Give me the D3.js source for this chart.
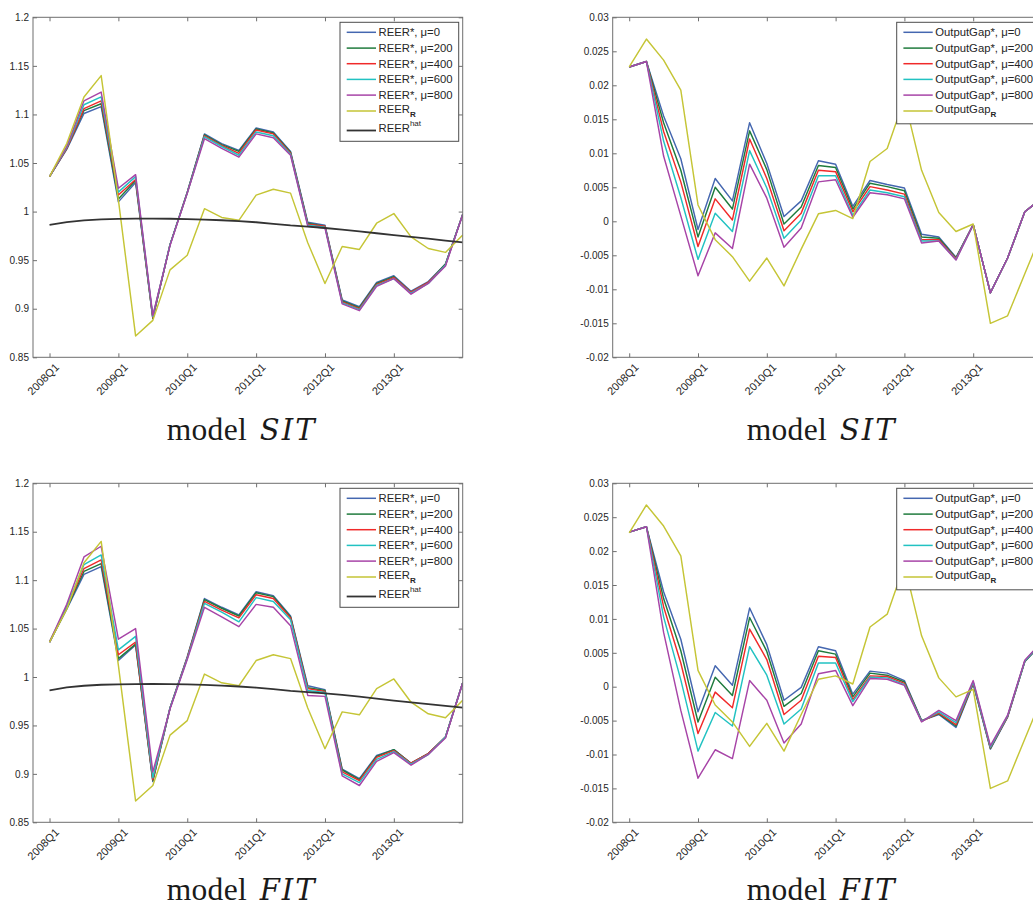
<!DOCTYPE html>
<html>
<head>
<meta charset="utf-8">
<script src="https://cdn.jsdelivr.net/npm/d3@7"></script>
<style>
html, body { margin: 0; padding: 0; background: #fff; overflow: hidden; }
svg { display: block; }
</style>
</head>
<body>
<svg id="fig" width="1033" height="908"></svg>
<script>
// ---- data -------------------------------------------------------------
const quarters = ["2008Q1","2008Q2","2008Q3","2008Q4","2009Q1","2009Q2","2009Q3","2009Q4",
  "2010Q1","2010Q2","2010Q3","2010Q4","2011Q1","2011Q2","2011Q3","2011Q4",
  "2012Q1","2012Q2","2012Q3","2012Q4","2013Q1","2013Q2","2013Q3","2013Q4","2014Q1"];
const xTickIndex = [0, 4, 8, 12, 16, 20];
const xTickLabels = ["2008Q1","2009Q1","2010Q1","2011Q1","2012Q1","2013Q1"];

const mus = [0, 200, 400, 600, 800];

const reerTicks = [0.85, 0.9, 0.95, 1, 1.05, 1.1, 1.15, 1.2];
const reerTickLabels = ["0.85","0.9","0.95","1","1.05","1.1","1.15","1.2"];
const gapTicks = [-0.02, -0.015, -0.01, -0.005, 0, 0.005, 0.01, 0.015, 0.02, 0.025, 0.03];
const gapTickLabels = ["-0.02","-0.015","-0.01","-0.005","0","0.005","0.01","0.015","0.02","0.025","0.03"];

// realised REER and its trend
const reerR = [1.036, 1.070, 1.118, 1.140, 1.012, 0.872, 0.888, 0.940, 0.955, 1.003, 0.994, 0.991,
  1.017, 1.023, 1.019, 0.968, 0.926, 0.964, 0.961, 0.988, 0.998, 0.974, 0.962, 0.958, 0.976];
const reerHat = [0.9863, 0.9892, 0.9910, 0.9920, 0.9925, 0.9927, 0.9928, 0.9926, 0.9923, 0.9918, 0.9911, 0.9902,
  0.9890, 0.9874, 0.9857, 0.9845, 0.9831, 0.9815, 0.9797, 0.9777, 0.9757, 0.9739, 0.9721, 0.9702, 0.9684];
// realised output gap
const gapR = [0.0227, 0.0268, 0.0237, 0.0193, 0.0024, -0.0027, -0.0052, -0.0088, -0.0054, -0.0095, -0.0041, 0.0011,
  0.0016, 0.0004, 0.0088, 0.0107, 0.0180, 0.0075, 0.0013, -0.0015, -0.0004, -0.0150, -0.0139, -0.0077, -0.0016];

// model SIT: optimal REER for each mu
const sitReer0   = [1.036, 1.064, 1.101, 1.108, 1.010, 1.030, 0.890, 0.966, 1.020, 1.080, 1.070, 1.063, 1.086, 1.082, 1.062, 0.989, 0.986, 0.909, 0.902, 0.927, 0.934, 0.918, 0.928, 0.946, 0.997];
const sitReer200 = [1.036, 1.065, 1.104, 1.111, 1.013, 1.032, 0.890, 0.966, 1.020, 1.079, 1.069, 1.062, 1.085, 1.081, 1.061, 0.988, 0.985, 0.908, 0.901, 0.926, 0.933, 0.917, 0.927, 0.946, 0.997];
const sitReer400 = [1.036, 1.065, 1.106, 1.114, 1.017, 1.033, 0.891, 0.966, 1.019, 1.078, 1.068, 1.060, 1.084, 1.080, 1.060, 0.987, 0.985, 0.907, 0.900, 0.925, 0.932, 0.917, 0.927, 0.945, 0.997];
const sitReer600 = [1.036, 1.066, 1.110, 1.118, 1.020, 1.036, 0.892, 0.966, 1.019, 1.077, 1.067, 1.058, 1.082, 1.078, 1.059, 0.986, 0.984, 0.906, 0.899, 0.924, 0.931, 0.916, 0.926, 0.945, 0.997];
const sitReer800 = [1.036, 1.067, 1.114, 1.123, 1.024, 1.038, 0.893, 0.965, 1.019, 1.075, 1.065, 1.056, 1.080, 1.076, 1.058, 0.985, 0.983, 0.905, 0.898, 0.923, 0.931, 0.915, 0.926, 0.944, 0.997];

// model SIT: optimal output gap for each mu
const sitGap0   = [0.0227, 0.0235, 0.0155, 0.0092, -0.0012, 0.0063, 0.0030, 0.0145, 0.0085, 0.0007, 0.0030, 0.0089, 0.0084, 0.0022, 0.0060, 0.0054, 0.0049, -0.0019, -0.0023, -0.0053, -0.0005, -0.0105, -0.0054, 0.0014, 0.0034];
const sitGap200 = [0.0227, 0.0235, 0.0145, 0.0075, -0.0023, 0.0050, 0.0018, 0.0133, 0.0076, -0.0004, 0.0021, 0.0082, 0.0079, 0.0018, 0.0056, 0.0051, 0.0045, -0.0023, -0.0025, -0.0054, -0.0005, -0.0105, -0.0054, 0.0014, 0.0034];
const sitGap400 = [0.0227, 0.0235, 0.0132, 0.0058, -0.0037, 0.0033, 0.0002, 0.0121, 0.0063, -0.0014, 0.0012, 0.0075, 0.0073, 0.0014, 0.0051, 0.0046, 0.0040, -0.0027, -0.0027, -0.0055, -0.0005, -0.0105, -0.0054, 0.0014, 0.0034];
const sitGap600 = [0.0227, 0.0235, 0.0118, 0.0035, -0.0056, 0.0012, -0.0015, 0.0104, 0.0049, -0.0025, 0.0002, 0.0067, 0.0067, 0.0009, 0.0046, 0.0042, 0.0036, -0.0029, -0.0029, -0.0056, -0.0005, -0.0105, -0.0054, 0.0014, 0.0034];
const sitGap800 = [0.0227, 0.0235, 0.0096, 0.0008, -0.0080, -0.0017, -0.0040, 0.0084, 0.0034, -0.0038, -0.0010, 0.0058, 0.0061, 0.0006, 0.0042, 0.0039, 0.0033, -0.0032, -0.0029, -0.0057, -0.0005, -0.0105, -0.0054, 0.0014, 0.0034];

// model FIT: optimal REER for each mu
const fitReer0   = [1.036, 1.070, 1.106, 1.114, 1.017, 1.033, 0.892, 0.968, 1.021, 1.081, 1.072, 1.064, 1.088, 1.084, 1.063, 0.991, 0.987, 0.905, 0.895, 0.919, 0.925, 0.911, 0.921, 0.938, 0.994];
const fitReer200 = [1.036, 1.071, 1.109, 1.117, 1.019, 1.034, 0.893, 0.968, 1.020, 1.080, 1.071, 1.063, 1.087, 1.083, 1.062, 0.989, 0.986, 0.904, 0.894, 0.918, 0.925, 0.911, 0.921, 0.938, 0.994];
const fitReer400 = [1.036, 1.072, 1.112, 1.121, 1.023, 1.036, 0.894, 0.968, 1.020, 1.078, 1.069, 1.061, 1.085, 1.081, 1.061, 0.988, 0.985, 0.902, 0.893, 0.917, 0.924, 0.911, 0.921, 0.938, 0.994];
const fitReer600 = [1.036, 1.073, 1.116, 1.126, 1.028, 1.042, 0.896, 0.968, 1.019, 1.076, 1.067, 1.057, 1.082, 1.078, 1.059, 0.986, 0.984, 0.900, 0.891, 0.915, 0.923, 0.910, 0.920, 0.938, 0.994];
const fitReer800 = [1.036, 1.075, 1.124, 1.135, 1.039, 1.050, 0.902, 0.967, 1.018, 1.072, 1.062, 1.052, 1.075, 1.072, 1.053, 0.981, 0.980, 0.898, 0.888, 0.913, 0.922, 0.909, 0.920, 0.937, 0.994];

// model FIT: optimal output gap for each mu
const fitGap0   = [0.0228, 0.0236, 0.0140, 0.0070, -0.0037, 0.0031, 0.0002, 0.0116, 0.0062, -0.0020, -0.0001, 0.0059, 0.0053, -0.0011, 0.0023, 0.0020, 0.0009, -0.0050, -0.0041, -0.0060, 0.0004, -0.0092, -0.0045, 0.0037, 0.0064];
const fitGap200 = [0.0228, 0.0236, 0.0130, 0.0053, -0.0052, 0.0014, -0.0013, 0.0102, 0.0052, -0.0029, -0.0010, 0.0053, 0.0048, -0.0015, 0.0020, 0.0017, 0.0007, -0.0050, -0.0040, -0.0058, 0.0005, -0.0091, -0.0044, 0.0037, 0.0065];
const fitGap400 = [0.0228, 0.0236, 0.0118, 0.0035, -0.0069, -0.0008, -0.0031, 0.0085, 0.0040, -0.0041, -0.0020, 0.0045, 0.0043, -0.0019, 0.0016, 0.0015, 0.0005, -0.0051, -0.0039, -0.0056, 0.0006, -0.0090, -0.0044, 0.0038, 0.0065];
const fitGap600 = [0.0228, 0.0236, 0.0103, 0.0010, -0.0095, -0.0038, -0.0058, 0.0059, 0.0017, -0.0055, -0.0033, 0.0035, 0.0035, -0.0022, 0.0014, 0.0013, 0.0003, -0.0051, -0.0037, -0.0053, 0.0007, -0.0089, -0.0043, 0.0038, 0.0066];
const fitGap800 = [0.0228, 0.0236, 0.0080, -0.0035, -0.0135, -0.0093, -0.0106, 0.0009, -0.0020, -0.0083, -0.0055, 0.0019, 0.0024, -0.0028, 0.0012, 0.0011, 0.0002, -0.0052, -0.0035, -0.0050, 0.0009, -0.0087, -0.0042, 0.0039, 0.0067];

// ---- styling ----------------------------------------------------------
const starColors = ["#4567b0", "#1f7b3d", "#f02a2a", "#22c2c2", "#a744a7"];
const refColor = "#c5c536";
const hatColor = "#333333";
const axisColor = "#6f6f6f";
const labelColor = "#262626";
const sansFont = "'Liberation Sans', Arial, sans-serif";
const serifFont = "'Liberation Serif', 'Times New Roman', serif";
const mathFont = "'DejaVu Serif', 'Liberation Serif', serif";

const svg = d3.select("#fig");
let clipCount = 0;

function drawPanel(opt) {
  const { left, right, top, bottom } = opt.box;
  const x = d3.scaleLinear().domain([-0.96, 24]).range([left, right]);
  const y = d3.scaleLinear().domain(opt.yDomain).range([bottom, top]);
  const g = svg.append("g");

  const clipId = "plot-clip-" + (clipCount++);
  g.append("clipPath").attr("id", clipId)
    .append("rect")
    .attr("x", left).attr("y", top)
    .attr("width", right - left).attr("height", bottom - top);

  const line = d3.line().x((d, i) => x(i)).y(d => y(d));
  const plot = g.append("g").attr("clip-path", `url(#${clipId})`);

  opt.series.forEach((s, k) => {
    plot.append("path")
      .datum(s)
      .attr("d", line)
      .attr("fill", "none")
      .attr("stroke", starColors[k])
      .attr("stroke-width", 1.45)
      .attr("stroke-linejoin", "round");
  });
  plot.append("path").datum(opt.ref).attr("d", line)
    .attr("fill", "none").attr("stroke", refColor).attr("stroke-width", 1.45)
    .attr("stroke-linejoin", "round");
  if (opt.hat) {
    plot.append("path").datum(opt.hat).attr("d", line)
      .attr("fill", "none").attr("stroke", hatColor).attr("stroke-width", 1.8);
  }

  // axes with inward ticks on all four sides
  const xb = g.append("g").attr("transform", `translate(0,${bottom})`)
    .call(d3.axisBottom(x).tickValues(xTickIndex)
      .tickFormat((d, i) => xTickLabels[i]).tickSizeInner(-4).tickSizeOuter(0).tickPadding(0));
  g.append("g").attr("transform", `translate(0,${top})`)
    .call(d3.axisTop(x).tickValues(xTickIndex).tickFormat("").tickSizeInner(-4).tickSizeOuter(0));
  const yl = g.append("g").attr("transform", `translate(${left},0)`)
    .call(d3.axisLeft(y).tickValues(opt.ticks)
      .tickFormat((d, i) => opt.tickLabels[i]).tickSizeInner(-4).tickSizeOuter(0).tickPadding(4));
  g.append("g").attr("transform", `translate(${right},0)`)
    .call(d3.axisRight(y).tickValues(opt.ticks).tickFormat("").tickSizeInner(-4).tickSizeOuter(0));

  g.selectAll(".domain").remove();
  g.selectAll(".tick line").attr("stroke", axisColor).attr("stroke-width", 1);
  g.selectAll(".tick text")
    .attr("fill", labelColor)
    .style("font-family", sansFont);
  yl.selectAll("text").style("font-size", "10px");
  xb.selectAll("text")
    .style("font-size", "11px")
    .attr("text-anchor", "end")
    .attr("dy", "0.35em")
    .attr("y", 0)
    .attr("transform", "translate(7,8) rotate(-45)");

  g.append("rect")
    .attr("x", left).attr("y", top)
    .attr("width", right - left).attr("height", bottom - top)
    .attr("fill", "none").attr("stroke", axisColor).attr("stroke-width", 1);

  // legend
  const lg = g.append("g").attr("transform", `translate(${opt.legend.x},${top + 5})`);
  const rowY = [10, 25.8, 41.4, 57.1, 72.8, 88.7, 108.2];
  const entries = mus.map((m, k) => ({ base: `${opt.name}*, μ=${m}`, color: starColors[k] }));
  entries.push({ base: opt.name, sub: "R", color: refColor });
  if (opt.hat) entries.push({ base: opt.name, sup: "hat", color: hatColor });

  lg.append("rect")
    .attr("x", 0).attr("y", 0)
    .attr("width", opt.legend.w)
    .attr("height", opt.hat ? 119 : 101.5)
    .attr("fill", "#fff").attr("stroke", "#4d4d4d").attr("stroke-width", 1);

  entries.forEach((e, k) => {
    const ry = rowY[k];
    lg.append("line")
      .attr("x1", 6.7).attr("x2", 36).attr("y1", ry).attr("y2", ry)
      .attr("stroke", e.color).attr("stroke-width", e.sup ? 1.8 : 1.5);
    const t = lg.append("text")
      .attr("x", 38.5).attr("y", e.sub || e.sup ? ry + 2 : ry + 4)
      .attr("fill", labelColor)
      .style("font-family", sansFont)
      .style("font-size", "11.3px")
      .text(e.base);
    if (e.sub) {
      t.append("tspan").attr("dy", 4).style("font-size", "8px").style("font-weight", "bold").text(e.sub);
    }
    if (e.sup) {
      t.append("tspan").attr("dy", -6).style("font-size", "8px").text(e.sup);
    }
  });

  // caption under the panel: upright "model" followed by the italic model name
  const cx = opt.caption.x, cy = opt.caption.y;
  svg.append("text")
    .attr("x", cx - 75).attr("y", cy)
    .attr("textLength", 80).attr("lengthAdjust", "spacing")
    .attr("fill", "#1a1a1a")
    .style("font-family", serifFont)
    .style("font-size", "31.5px")
    .text("model");
  svg.append("text")
    .attr("x", cx + 18).attr("y", cy)
    .attr("textLength", 55).attr("lengthAdjust", "spacing")
    .attr("fill", "#1a1a1a")
    .style("font-family", mathFont)
    .style("font-style", "italic")
    .style("font-size", "29px")
    .text(opt.model);
}

const leftBox = (top, bottom) => ({ left: 33, right: 462.7, top, bottom });
const rightBox = (top, bottom) => ({ left: 612.7, right: 1042, top, bottom });

drawPanel({
  box: leftBox(17.3, 357.3), yDomain: [0.85, 1.2], ticks: reerTicks, tickLabels: reerTickLabels,
  series: [sitReer0, sitReer200, sitReer400, sitReer600, sitReer800], ref: reerR, hat: reerHat,
  name: "REER", legend: { x: 340, w: 118.7 }, model: "SIT", caption: { x: 241.7, y: 440 }
});
drawPanel({
  box: rightBox(17.3, 357.3), yDomain: [-0.02, 0.03], ticks: gapTicks, tickLabels: gapTickLabels,
  series: [sitGap0, sitGap200, sitGap400, sitGap600, sitGap800], ref: gapR, hat: null,
  name: "OutputGap", legend: { x: 896.7, w: 145 }, model: "SIT", caption: { x: 821.7, y: 440 }
});
drawPanel({
  box: leftBox(483.3, 822.3), yDomain: [0.85, 1.2], ticks: reerTicks, tickLabels: reerTickLabels,
  series: [fitReer0, fitReer200, fitReer400, fitReer600, fitReer800], ref: reerR, hat: reerHat,
  name: "REER", legend: { x: 340, w: 118.7 }, model: "FIT", caption: { x: 241.7, y: 900 }
});
drawPanel({
  box: rightBox(483.3, 822.3), yDomain: [-0.02, 0.03], ticks: gapTicks, tickLabels: gapTickLabels,
  series: [fitGap0, fitGap200, fitGap400, fitGap600, fitGap800], ref: gapR, hat: null,
  name: "OutputGap", legend: { x: 896.7, w: 145 }, model: "FIT", caption: { x: 821.7, y: 900 }
});
</script>
</body>
</html>
